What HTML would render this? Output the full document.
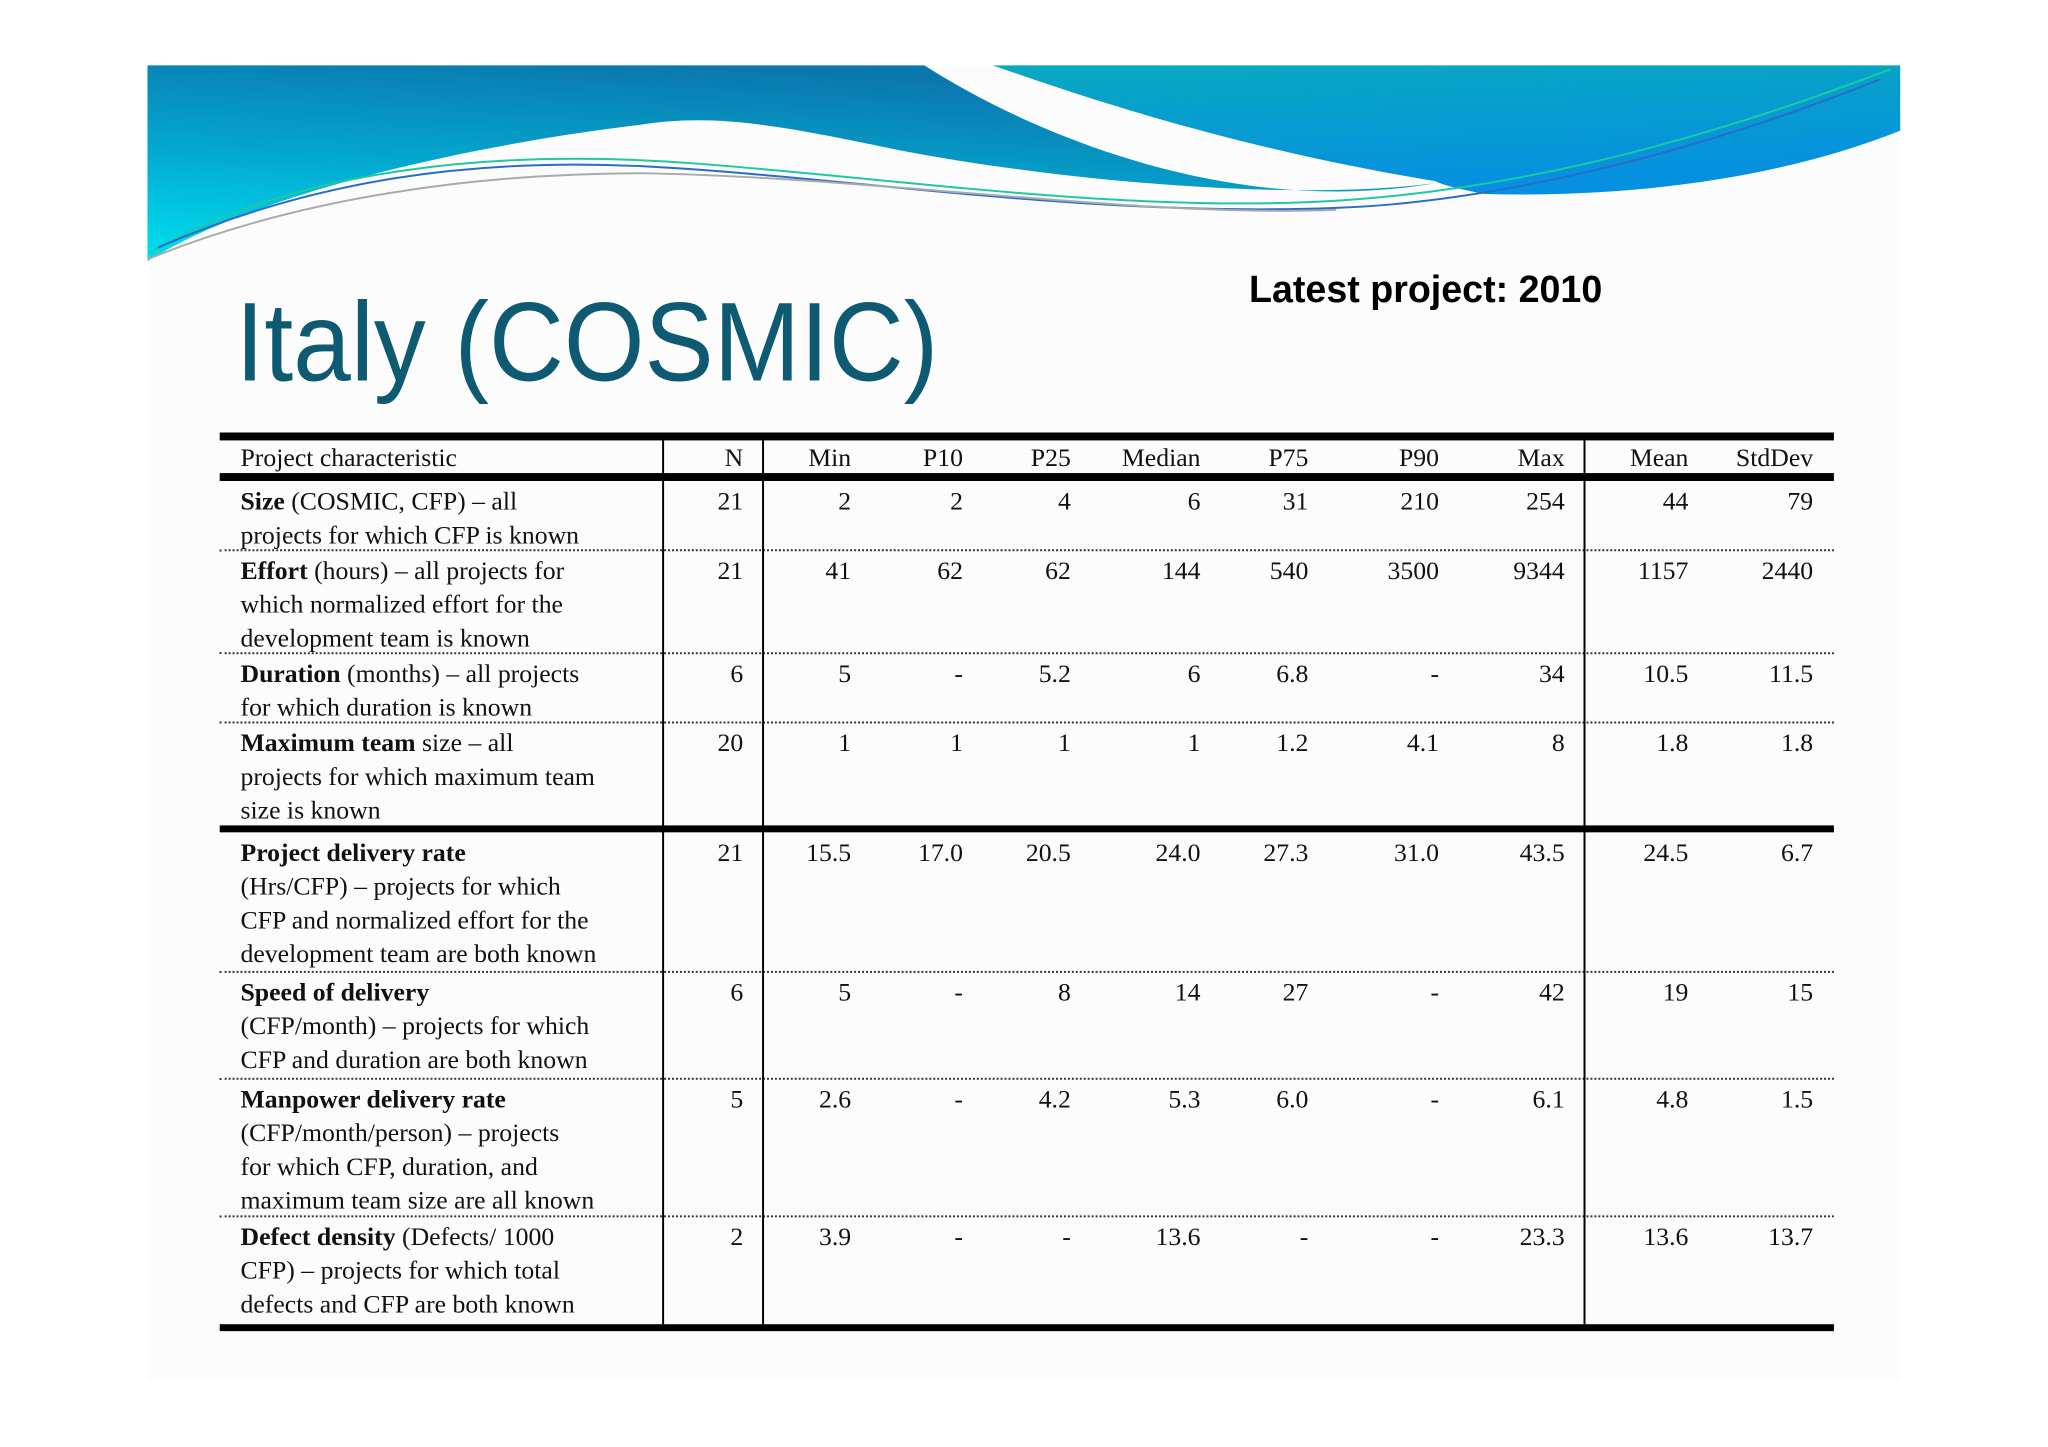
<!DOCTYPE html>
<html><head><meta charset="utf-8">
<style>
html,body{margin:0;padding:0;background:#fff;}
#outer{position:relative;width:2048px;height:1447px;overflow:hidden;background:#fff;}
#root{position:absolute;left:0;top:0;width:2048px;height:1447px;transform:scale(0.9897);transform-origin:0 0;}
#slide{position:absolute;left:149px;top:66px;width:1771px;height:1330px;background:#fcfcfd;}
.t{position:absolute;font-family:"Liberation Serif",serif;font-size:26px;color:#111;white-space:nowrap;line-height:34px;}
.num{text-align:right;}
.hl{position:absolute;background:#000;}
.dl{position:absolute;height:0;border-top:2px dotted #333;}
</style></head>
<body>
<div id="outer">
<div id="root">
<div id="slide"></div>
<svg style="position:absolute;left:0;top:0" width="2048" height="320">
<defs>
<linearGradient id="g1" x1="0" y1="1" x2="0.4" y2="0"><stop offset="0" stop-color="#00e0f0"/><stop offset="0.5" stop-color="#04a8cf"/><stop offset="1" stop-color="#0a78ae"/></linearGradient>
<linearGradient id="g2" x1="0" y1="0" x2="0.3" y2="1"><stop offset="0" stop-color="#08a9c0"/><stop offset="1" stop-color="#0690e0"/></linearGradient>
</defs>
<path d="M149,66 L934,66 C1050,140 1250,220 1450,185 C1300,205 1050,180 900,150 C780,125 720,115 647,126 C450,150 250,200 149,264 Z" fill="url(#g1)"/>
<path d="M1003,66 L1920,66 L1920,132 C1800,180 1650,200 1500,196 C1480,192 1460,188 1450,183 C1250,150 1100,100 1003,66 Z" fill="url(#g2)"/>
<path d="M152,255 C300,170 500,150 700,165 C900,180 1100,210 1300,205 C1500,200 1700,150 1910,70" stroke="#1ec8a0" stroke-width="2" fill="none"/>
<path d="M160,250 C320,180 480,160 650,168 C850,178 1100,220 1350,210 C1500,205 1700,160 1900,80" stroke="#2a6cc8" stroke-width="2" fill="none"/>
<path d="M149,262 C300,200 480,175 650,175 C900,180 1150,220 1350,212" stroke="#aaa" stroke-width="2" fill="none"/>
</svg>
<div style="position:absolute;left:238px;top:284px;font-family:'Liberation Sans',sans-serif;font-size:108px;color:#0e5a73;line-height:130px;white-space:nowrap;transform:scale(0.97,1.05);transform-origin:0 100%;">Italy (COSMIC)</div>
<div style="position:absolute;left:1262px;top:266px;font-family:'Liberation Sans',sans-serif;font-weight:bold;font-size:38px;color:#000;line-height:54px;white-space:nowrap;">Latest project: 2010</div>
<div id="tbl"></div>
</div>
</div>
<script>
const headers = ["N","Min","P10","P25","Median","P75","P90","Max","Mean","StdDev"];
const labels = [
 ["<b>Size</b> (COSMIC, CFP) – all","projects for which CFP is known"],
 ["<b>Effort</b> (hours) – all projects for","which normalized effort for the","development team is known"],
 ["<b>Duration</b> (months) – all projects","for which duration is known"],
 ["<b>Maximum team</b> size – all","projects for which maximum team","size is known"],
 ["<b>Project delivery rate</b>","(Hrs/CFP) – projects for which","CFP and normalized effort for the","development team are both known"],
 ["<b>Speed of delivery</b>","(CFP/month) – projects for which","CFP and duration are both known"],
 ["<b>Manpower delivery rate</b>","(CFP/month/person) – projects","for which CFP, duration, and","maximum team size are all known"],
 ["<b>Defect density</b> (Defects/ 1000","CFP) – projects for which total","defects and CFP are both known"]
];
const nVals = ["21","21","6","20","21","6","5","2"];
const minVals = ["2","41","5","1","15.5","5","2.6","3.9"];
const p10Vals = ["2","62","-","1","17.0","-","-","-"];
const p25Vals = ["4","62","5.2","1","20.5","8","4.2","-"];
const medianVals = ["6","144","6","1","24.0","14","5.3","13.6"];
const p75Vals = ["31","540","6.8","1.2","27.3","27","6.0","-"];
const p90Vals = ["210","3500","-","4.1","31.0","-","-","-"];
const maxVals = ["254","9344","34","8","43.5","42","6.1","23.3"];
const meanVals = ["44","1157","10.5","1.8","24.5","19","4.8","13.6"];
const stdVals = ["79","2440","11.5","1.8","6.7","15","1.5","13.7"];

const cols=[nVals,minVals,p10Vals,p25Vals,medianVals,p75Vals,p90Vals,maxVals,meanVals,stdVals];
const colRight=[751,860,973,1082,1213,1322,1454,1581,1706,1832];
const rowTop=[486,556,660,730,841,982,1090,1229];
const tbl=document.getElementById('tbl');
function line(cls,x,y,w,h,name){const d=document.createElement('div');d.className=cls;d.style.left=x+'px';d.style.top=y+'px';d.style.width=w+'px';if(h!==null)d.style.height=h+'px';


tbl.appendChild(d);}
line('hl',222,437,1631,8,'table-top-rule');
line('hl',222,478,1631,8,'header-bottom-rule');
line('hl',222,834,1631,7,'section-rule');
line('hl',222,1338,1631,7,'table-bottom-rule');
[556,660,730,982,1090,1229].forEach(y=>line('dl',222,y-1,1631,null,'row-separator'));
[670,771,1601].forEach(x=>line('hl',x-1,445,2,893,'column-rule'));
function txt(html,x,y,right,name){const d=document.createElement('div');d.className='t'+(right?' num':'');


d.innerHTML=html;d.style.top=y+'px';
if(right){d.style.right=(2048-x)+'px';}else d.style.left=x+'px';tbl.appendChild(d);}
txt('Project characteristic',243,446,false,'header-project-characteristic');
headers.forEach((h,i)=>txt(h,colRight[i],446,true,'header-'+h.toLowerCase()));
labels.forEach((ls,r)=>{
 txt(ls.join('<br>'),243,rowTop[r]+4,false,'row-label');
 cols.forEach((c,i)=>txt(c[r],colRight[i],rowTop[r]+4,true,'cell-'+headers[i].toLowerCase()));
});
</script>
</body></html>
